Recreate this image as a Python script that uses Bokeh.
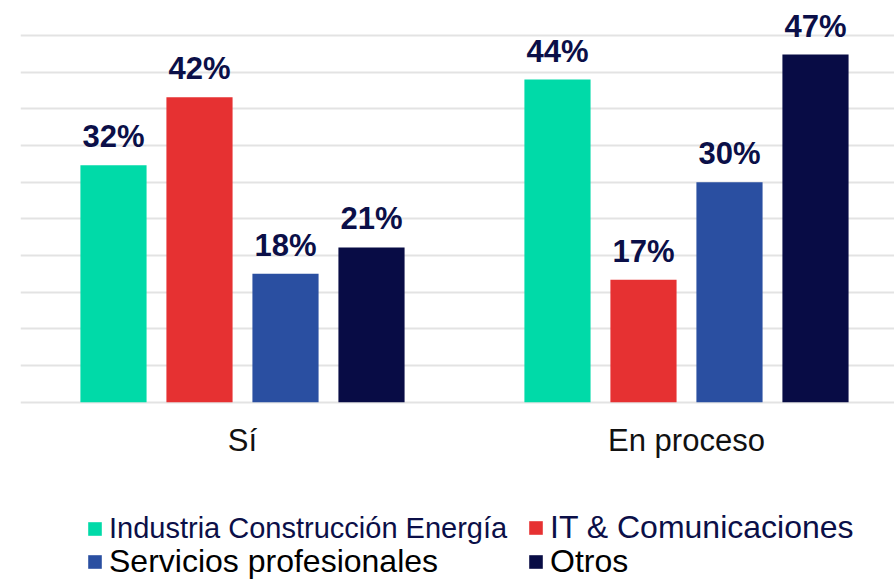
from bokeh.plotting import figure
from bokeh.models import (Range1d, FixedTicker, Grid, ColumnDataSource, LabelSet,
                          Legend, LegendItem)
from bokeh.core.properties import value
from bokeh.embed import file_html
from bokeh.resources import INLINE

# ---- data ----
groups = ["Sí", "En proceso"]
series = ["Industria Construcción Energía", "IT & Comunicaciones",
          "Servicios profesionales", "Otros"]
industria = [32.3, 44.0]
it_com = [41.6, 16.7]
servicios = [17.5, 30.0]
otros = [21.1, 47.4]
industria_lbl = ["32%", "44%"]
it_com_lbl = ["42%", "17%"]
servicios_lbl = ["18%", "30%"]
otros_lbl = ["21%", "47%"]
grid_ticks = [0, 5, 10, 15, 20, 25, 30, 35, 40, 45, 50]

values = [industria, it_com, servicios, otros]
labels = [industria_lbl, it_com_lbl, servicios_lbl, otros_lbl]

# ---- style ----
colors = ["#00DAA8", "#E63132", "#2A4FA1", "#080C45"]
label_color = "#0B0F48"
FONT = "Liberation Sans"
bar_w = 0.149
step = 0.1937

p = figure(frame_width=874, frame_height=571,
           min_border_left=20, min_border_right=0, min_border_top=8,
           min_border_bottom=0,
           x_range=Range1d(0, 1.9685), y_range=Range1d(-24.18, 53.69),
           x_axis_location=None, y_axis_location=None,
           output_backend="svg", toolbar_location=None)
p.outline_line_color = None
p.background_fill_color = "white"
for g in p.grid:
    g.visible = False
p.add_layout(Grid(dimension=1, ticker=FixedTicker(ticks=grid_ticks),
                  grid_line_color="#E3E3E3", grid_line_width=2))

renderers = []
for k, (vals, lbls, col) in enumerate(zip(values, labels, colors)):
    xs = [i + 0.5 + (k - 1.5) * step for i in range(len(groups))]
    src = ColumnDataSource(dict(x=xs, top=vals, lbl=lbls))
    r = p.vbar(x="x", top="top", width=bar_w, bottom=0, source=src,
               fill_color=col, line_color=None)
    renderers.append(r)
    p.add_layout(LabelSet(x="x", y="top", text="lbl", source=src,
                          y_offset=18, text_align="center",
                          text_baseline="alphabetic",
                          text_font=value(FONT), text_font_style="bold",
                          text_font_size="31px", text_color=label_color))

# category labels
cat_src = ColumnDataSource(dict(x=[i + 0.5 for i in range(len(groups))],
                                y=[0] * len(groups), name=groups))
p.add_layout(LabelSet(x="x", y="y", text="name", source=cat_src,
                      y_offset=-49, text_align="center",
                      text_baseline="alphabetic",
                      text_font=value(FONT), text_font_size="31px",
                      text_color="#111111"))

legend_styles = [
    (label_color, "29px", (66, 34)),
    (label_color, "32px", (507, 33)),
    ("#000000", "32px", (66, -1)),
    ("#000000", "32px", (507, -1)),
]
for name, rend, (tcol, size, loc) in zip(series, renderers, legend_styles):
    lg = Legend(items=[LegendItem(label=name, renderers=[rend])],
                orientation="horizontal", location=loc,
                label_text_font=FONT, label_text_font_size=size,
                label_text_color=tcol, glyph_width=17, glyph_height=17,
                label_standoff=6, spacing=0,
                padding=0, margin=0, border_line_color=None,
                background_fill_alpha=0)
    p.add_layout(lg, "center")

open("out.html", "w").write(file_html(p, INLINE))
